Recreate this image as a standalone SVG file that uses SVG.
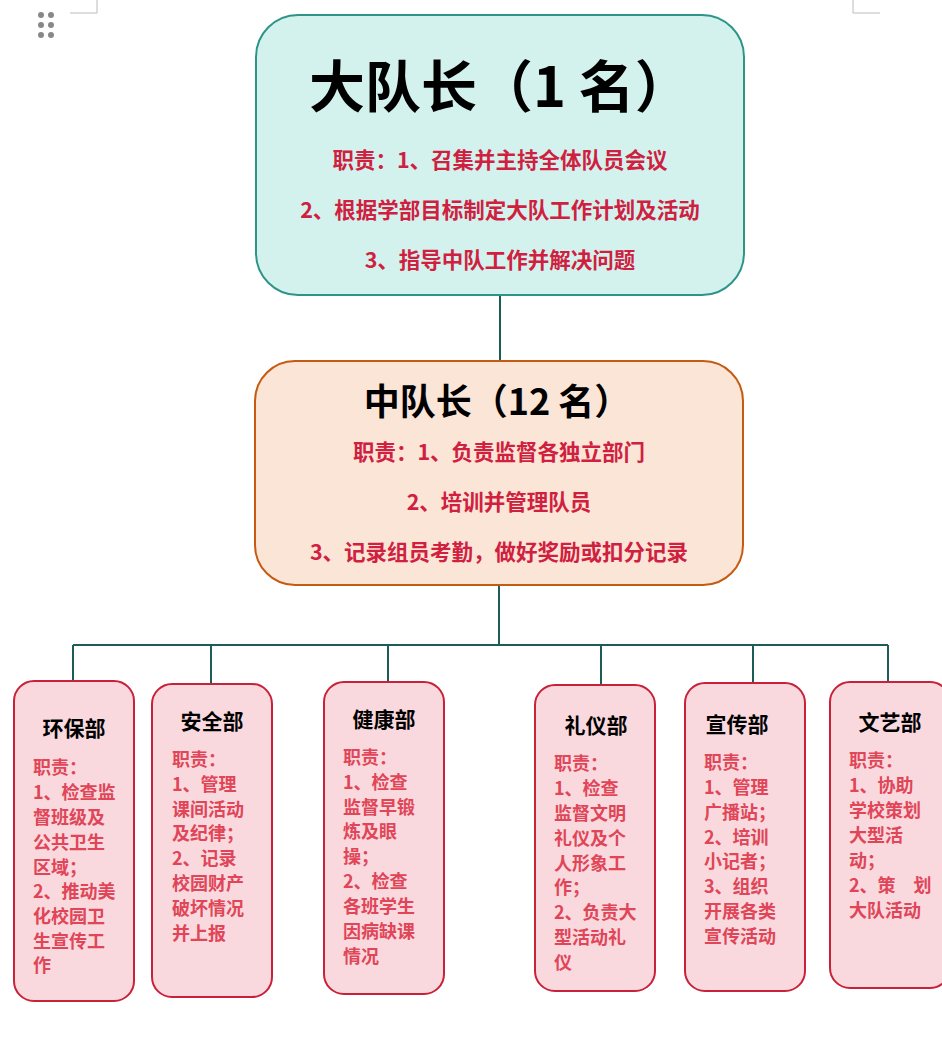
<svg xmlns="http://www.w3.org/2000/svg" width="942" height="1062" viewBox="0 0 942 1062">
<style>
text{font-family:"Noto Sans CJK SC","Liberation Serif",serif;}
.t{fill:#000;font-weight:bold;text-anchor:middle}
.r{fill:#d0203f;font-weight:bold;font-size:21.5px;text-anchor:middle}
.d{fill:#e04558;font-weight:bold;font-size:18px}
.dt{fill:#000;font-weight:bold;font-size:21px;text-anchor:middle}
.dept{fill:#f9d9de;stroke:#c8213a;stroke-width:2}
.c{stroke:#1d5d58;stroke-width:2;fill:none}
</style>
<rect width="942" height="1062" fill="#fff"/>
<g fill="#888"><circle cx="41" cy="15" r="3"/><circle cx="51" cy="15" r="3"/><circle cx="41" cy="25" r="3"/><circle cx="51" cy="25" r="3"/><circle cx="41" cy="35" r="3"/><circle cx="51" cy="35" r="3"/></g>
<path d="M70 13H97V0M853 0V13H880" stroke="#bbb" fill="none"/>
<g id="connectors" class="c">
<path d="M500 295V361M499 585V645M73 645H888M73 645V681M211 645V684M388 645V682M601 645V685M753 645V683M888 645V682"/>
</g>
<g id="dadui">
<rect x="256" y="15" width="488" height="280" rx="42" fill="#d3f2ee" stroke="#2e9488" stroke-width="2"/>
<text class="t" x="500" y="107" font-size="56">大队长（1 名）</text>
<text class="r" x="500" y="168">职责：1、召集并主持全体队员会议</text>
<text class="r" x="500" y="218">2、根据学部目标制定大队工作计划及活动</text>
<text class="r" x="500" y="268">3、指导中队工作并解决问题</text>
</g>
<g id="zhongdui">
<rect x="255" y="361" width="488" height="224" rx="40" fill="#fbe5d6" stroke="#c55a11" stroke-width="2"/>
<text class="t" x="497" y="415" font-size="36">中队长（12 名）</text>
<text class="r" x="499" y="460">职责：1、负责监督各独立部门</text>
<text class="r" x="499" y="510">2、培训并管理队员</text>
<text class="r" x="499" y="560">3、记录组员考勤，做好奖励或扣分记录</text>
</g>
<g id="huanbao">
<rect class="dept" x="14" y="681" width="120" height="320" rx="20"/>
<text class="dt" x="74" y="736">环保部</text>
<text class="d" x="33"><tspan x="33" y="774">职责：</tspan><tspan x="33" y="799">1、检查监</tspan><tspan x="33" y="824">督班级及</tspan><tspan x="33" y="849">公共卫生</tspan><tspan x="33" y="874">区域；</tspan><tspan x="33" y="898">2、推动美</tspan><tspan x="33" y="923">化校园卫</tspan><tspan x="33" y="948">生宣传工</tspan><tspan x="33" y="972">作</tspan></text>
</g>
<g id="anquan">
<rect class="dept" x="152" y="684" width="120" height="313" rx="20"/>
<text class="dt" x="212" y="729">安全部</text>
<text class="d" x="172"><tspan x="172" y="766">职责：</tspan><tspan x="172" y="791">1、管理</tspan><tspan x="172" y="816">课间活动</tspan><tspan x="172" y="840">及纪律；</tspan><tspan x="172" y="865">2、记录</tspan><tspan x="172" y="890">校园财产</tspan><tspan x="172" y="915">破坏情况</tspan><tspan x="172" y="940">并上报</tspan></text>
</g>
<g id="jiankang">
<rect class="dept" x="324" y="682" width="120" height="312" rx="20"/>
<text class="dt" x="384" y="727">健康部</text>
<text class="d" x="343"><tspan x="343" y="764">职责：</tspan><tspan x="343" y="789">1、检查</tspan><tspan x="343" y="814">监督早锻</tspan><tspan x="343" y="838">炼及眼</tspan><tspan x="343" y="863">操；</tspan><tspan x="343" y="888">2、检查</tspan><tspan x="343" y="913">各班学生</tspan><tspan x="343" y="938">因病缺课</tspan><tspan x="343" y="963">情况</tspan></text>
</g>
<g id="liyi">
<rect class="dept" x="535" y="685" width="120" height="306" rx="20"/>
<text class="dt" x="596" y="733">礼仪部</text>
<text class="d" x="554"><tspan x="554" y="770">职责：</tspan><tspan x="554" y="795">1、检查</tspan><tspan x="554" y="820">监督文明</tspan><tspan x="554" y="845">礼仪及个</tspan><tspan x="554" y="870">人形象工</tspan><tspan x="554" y="894">作；</tspan><tspan x="554" y="919">2、负责大</tspan><tspan x="554" y="944">型活动礼</tspan><tspan x="554" y="969">仪</tspan></text>
</g>
<g id="xuanchuan">
<rect class="dept" x="685" y="683" width="120" height="308" rx="20"/>
<text class="dt" x="737" y="732">宣传部</text>
<text class="d" x="704"><tspan x="704" y="769">职责：</tspan><tspan x="704" y="794">1、管理</tspan><tspan x="704" y="819">广播站；</tspan><tspan x="704" y="844">2、培训</tspan><tspan x="704" y="868">小记者；</tspan><tspan x="704" y="893">3、组织</tspan><tspan x="704" y="918">开展各类</tspan><tspan x="704" y="943">宣传活动</tspan></text>
</g>
<g id="wenyi">
<rect class="dept" x="830" y="682" width="120" height="306" rx="20"/>
<text class="dt" x="890" y="730">文艺部</text>
<text class="d" x="849"><tspan x="849" y="767">职责：</tspan><tspan x="849" y="792">1、协助</tspan><tspan x="849" y="817">学校策划</tspan><tspan x="849" y="842">大型活</tspan><tspan x="849" y="867">动；</tspan><tspan x="849" y="892">2、策　划</tspan><tspan x="849" y="917">大队活动</tspan></text>
</g>
</svg>
